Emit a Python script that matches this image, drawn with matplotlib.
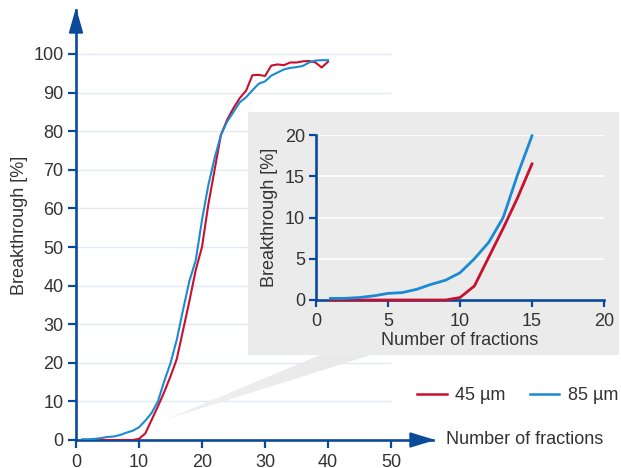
import matplotlib
matplotlib.use("Agg")
import matplotlib.pyplot as plt
from matplotlib.patches import Polygon, Rectangle
import numpy as np

plt.rcParams['font.family'] = ['Liberation Sans', 'DejaVu Sans']

# ---------------- data ----------------
fractions = list(range(1, 41))
um45 = [0, 0, 0, 0, 0, 0, 0, 0, 0, 0.3,
        1.7, 5.2, 8.7, 12.4, 16.5, 21.0, 28.5, 36.0, 44.0, 50.0,
        61.0, 70.0, 79.0, 83.0, 86.0, 88.6, 90.5, 94.5, 94.6, 94.3,
        97.0, 97.3, 97.1, 97.8, 97.8, 98.1, 98.2, 97.8, 96.5, 98.0]
um85 = [0.2, 0.2, 0.3, 0.5, 0.8, 0.9, 1.3, 1.9, 2.4, 3.3,
        5.0, 7.0, 10.0, 15.2, 19.9, 26.0, 33.8, 41.2, 46.5, 57.0,
        66.0, 73.0, 79.0, 82.5, 85.0, 87.5, 88.8, 90.6, 92.3, 92.9,
        94.4, 95.2, 96.0, 96.4, 96.6, 96.9, 97.8, 98.3, 98.4, 98.4]
inset_n = 15
main_xticks = [0, 10, 20, 30, 40, 50]
main_yticks = [0, 10, 20, 30, 40, 50, 60, 70, 80, 90, 100]
inset_xticks = [0, 5, 10, 15, 20]
inset_yticks = [0, 5, 10, 15, 20]
labels = ['45 µm', '85 µm']
xlabel = 'Number of fractions'
ylabel = 'Breakthrough [%]'

RED = '#c8102e'
BLUE = '#1a8ad4'
AXC = '#0b4a98'
TXT = '#333333'
GRID = '#e3e8f4'
BOX = '#ebebeb'
FS = 13

W, H = 621, 468
fig = plt.figure(figsize=(W / 100, H / 100), dpi=100)

def fx(px):
    return px / W

def fy(py):
    return 1 - py / H

# ---------------- main axes ----------------
L, R, T, B = 76, 433, 10, 440
ax = fig.add_axes([fx(L), fy(B), (R - L) / W, (B - T) / H])
ax.set_zorder(0)
ax.set_facecolor('none')
xmax, ymax = (R - L) / 6.3, (B - T) / 3.86
for s in ['top', 'right']:
    ax.spines[s].set_visible(False)
for s in ['left', 'bottom']:
    ax.spines[s].set_color(AXC)
    ax.spines[s].set_linewidth(1.9)
ax.set_xticks(main_xticks)
ax.set_yticks(main_yticks)
ax.tick_params(axis='both', colors=AXC, width=1.6, length=6, labelsize=FS,
               labelcolor=TXT)
ax.tick_params(axis='y', pad=3)
ax.tick_params(axis='x', pad=4)
ax.hlines(main_yticks[1:], 0, 50, color=GRID, lw=1.0, zorder=0)

# arrows
aw, ah = R - L, B - T
ax.add_patch(Polygon([[1, 0], [1 - 23 / aw, 7 / ah], [1 - 23 / aw, -7 / ah]],
                     closed=True, transform=ax.transAxes, color=AXC,
                     clip_on=False, zorder=5))
ax.add_patch(Polygon([[0, 1], [-6.5 / aw, 1 - 23 / ah], [6.5 / aw, 1 - 23 / ah]],
                     closed=True, transform=ax.transAxes, color=AXC,
                     clip_on=False, zorder=5))

ax.plot(fractions, um45, color=RED, lw=1.5, label=labels[0], zorder=3)
ax.plot(fractions, um85, color=BLUE, lw=1.5, label=labels[1], zorder=3)

ax.set_ylabel(ylabel, fontsize=FS, color=TXT, labelpad=4)
fig.text(fx(446), fy(440), xlabel, fontsize=FS, color=TXT, ha='left',
         va='center')

# callout wedge with a light gradient
wedge = Polygon([[14.1, 5.2], [38.7, 22.0], [46.7, 22.0]], closed=True,
                facecolor='none', edgecolor='none', zorder=1)
ax.add_patch(wedge)
grad = np.linspace(0, 1, 256).reshape(1, -1)
im = ax.imshow(grad, extent=[14.1, 47, 5, 22.5], origin='lower',
               cmap=matplotlib.colors.LinearSegmentedColormap.from_list(
                   'w', ['#f0f0f0', '#e8e8e8']),
               aspect='auto', zorder=1, interpolation='bilinear')
im.set_clip_path(wedge)
ax.set_xlim(0, xmax)
ax.set_ylim(0, ymax)

# gray box
fig.patches.append(Rectangle((fx(248), fy(355)), (619 - 248) / W, (355 - 112) / H,
                             transform=fig.transFigure, facecolor=BOX,
                             edgecolor='none', zorder=1))

# ---------------- inset axes ----------------
iL, iR, iT, iB = 316, 604, 135, 300
ia = fig.add_axes([fx(iL), fy(iB), (iR - iL) / W, (iB - iT) / H])
ia.set_zorder(2)
ia.set_facecolor('none')
ia.set_xlim(0, 20)
ia.set_ylim(0, 20)
for s in ['top', 'right']:
    ia.spines[s].set_visible(False)
for s in ['left', 'bottom']:
    ia.spines[s].set_color(AXC)
    ia.spines[s].set_linewidth(1.9)
ia.set_xticks(inset_xticks)
ia.set_yticks(inset_yticks)
ia.tick_params(axis='both', colors=AXC, width=1.6, length=5, labelsize=FS,
               labelcolor=TXT, pad=3)
ia.tick_params(axis='x', pad=4)
ia.hlines(inset_yticks[1:], 0, 20, color='white', lw=1.2, zorder=0)
ia.plot(fractions[:inset_n], um45[:inset_n], color=RED, lw=2.0, zorder=3,
        clip_on=False)
ia.plot(fractions[:inset_n], um85[:inset_n], color=BLUE, lw=2.0, zorder=3,
        clip_on=False)
ia.set_ylabel(ylabel, fontsize=FS, color=TXT, labelpad=5)
ia.set_xlabel(xlabel, fontsize=FS, color=TXT, labelpad=2)

# legend
leg = fig.legend(handles=ax.get_lines(), labels=labels, loc='center left',
                 bbox_to_anchor=(fx(417), fy(396)), ncol=2, frameon=False,
                 fontsize=FS, handlelength=1.65, handletextpad=0.45,
                 columnspacing=1.35, borderpad=0, borderaxespad=0)
for t in leg.get_texts():
    t.set_color(TXT)
for h in leg.legend_handles:
    h.set_linewidth(1.8)

fig.savefig('out.png', dpi=100)
